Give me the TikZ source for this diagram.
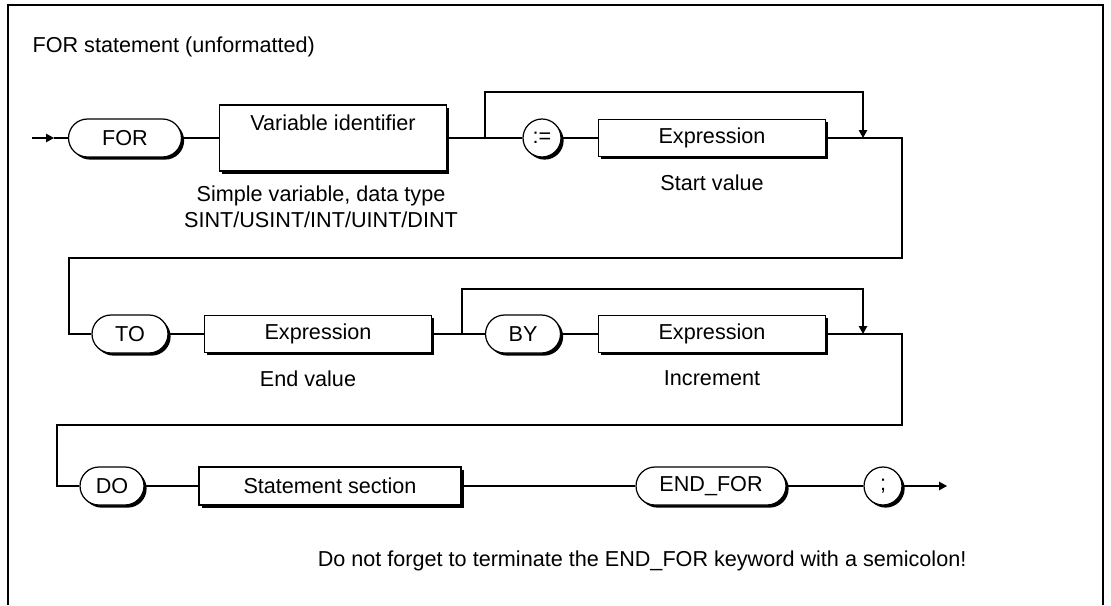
\documentclass[tikz,border=0pt]{standalone}
\usepackage{fontspec}
\setmainfont{Liberation Sans}
\usetikzlibrary{arrows.meta,shadows}

\tikzset{
  hardshadow/.style={drop shadow={shadow xshift=1.5pt, shadow yshift=-1.5pt, opacity=1, fill=black}},
  keyword/.style={draw, fill=white, rectangle, rounded corners=0.38cm, minimum height=0.76cm, inner sep=0pt, hardshadow},
  syntaxbox/.style={draw, fill=white, rectangle, sharp corners, minimum width=4.54cm, minimum height=0.74cm, inner sep=0pt, hardshadow},
  symbolnode/.style={draw, fill=white, circle, minimum size=0.76cm, inner sep=0pt, hardshadow},
  remark/.style={inner sep=0pt, anchor=base},
  tip/.style={-{Triangle[length=0.16cm,width=0.17cm]}}
}

\begin{document}
\begin{tikzpicture}[x=0.02cm, y=-0.02cm, line width=0.7pt, font=\fontsize{12.3pt}{14.8pt}\selectfont]
\useasboundingbox (0,0) rectangle (1111,605);

% frame and heading
\draw[line width=1.1pt] (8,605) -- (8,5) -- (1103,5) -- (1103,605);
\node[anchor=base west, inner sep=0pt] (title) at (32,52) {FOR statement (unformatted)};

% first row: FOR variable := start value
\coordinate (in) at (32,138);
\coordinate (intip) at (54,138);
\node[keyword, minimum width=2.26cm] (for) at (125,138) {FOR};
\node[syntaxbox, minimum height=1.32cm, text height=0.5cm, text depth=0.82cm, inner ysep=0pt] (varid) at (333,138) {Variable identifier};
\node[remark, align=center] (vartype) at (321,227) {Simple variable, data type\\SINT/USINT/INT/UINT/DINT};
\node[symbolnode] (assign) at (542,138) {:=};
\node[syntaxbox] (expr1) at (712,138) {Expression};
\node[remark] (startval) at (712,190) {Start value};
\coordinate (split1) at (485,138);
\coordinate (over1) at (485,92);
\coordinate (join1) at (863,138);
\coordinate (turn1) at (902,258);
\coordinate (back1) at (69,258);

% second row: TO end value BY increment
\node[keyword, minimum width=1.52cm] (to) at (130,334) {TO};
\node[syntaxbox] (expr2) at (318,334) {Expression};
\node[remark] (endval) at (308,386) {End value};
\node[keyword, minimum width=1.5cm] (by) at (523,334) {BY};
\node[syntaxbox] (expr3) at (712,334) {Expression};
\node[remark] (incr) at (712,385) {Increment};
\coordinate (split2) at (462,334);
\coordinate (over2) at (462,289);
\coordinate (join2) at (863,334);
\coordinate (turn2) at (902,425);
\coordinate (back2) at (57,425);

% third row: DO statements END_FOR ;
\node[keyword, minimum width=1.28cm] (do) at (112,486) {DO};
\node[syntaxbox, minimum width=5.24cm, minimum height=0.76cm] (stmt) at (330,486) {Statement section};
\node[keyword, minimum width=3.0cm] (endfor) at (711,486) {END\_FOR};
\node[symbolnode] (semi) at (883,486) {;};
\coordinate (out) at (947,486);
\node[remark, anchor=base east] (hint) at (967,566) {Do not forget to terminate the END\_FOR keyword with a semicolon!};

% connectors
\draw[tip] (in) -- (intip);
\draw (intip) -- (for);
\draw (for) -- (varid);
\draw (varid) -- (assign);
\draw (assign) -- (expr1);
\draw[tip] (split1) -- (over1) -| (join1);
\draw (expr1) -| (turn1) -- (back1) |- (to);

\draw (to) -- (expr2);
\draw (expr2) -- (by);
\draw (by) -- (expr3);
\draw[tip] (split2) -- (over2) -| (join2);
\draw (expr3) -| (turn2) -- (back2) |- (do);

\draw (do) -- (stmt);
\draw (stmt) -- (endfor);
\draw (endfor) -- (semi);
\draw[tip] (semi) -- (out);
\end{tikzpicture}
\end{document}
